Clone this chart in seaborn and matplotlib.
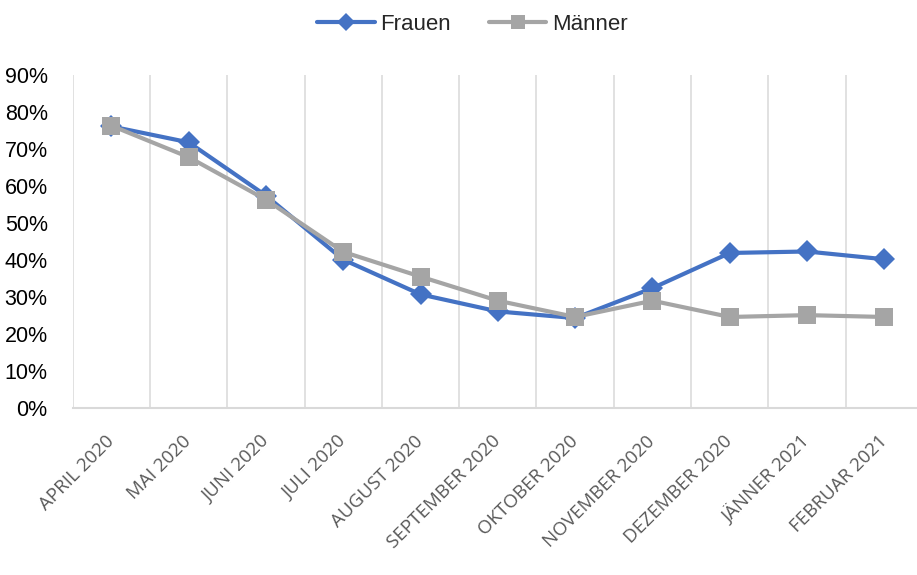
import numpy as np
import pandas as pd
import matplotlib
matplotlib.use("Agg")
import matplotlib.pyplot as plt
from matplotlib import font_manager as fm
from matplotlib.ticker import FixedLocator, FuncFormatter
import seaborn as sns

months = ["APRIL 2020", "MAI 2020", "JUNI 2020", "JULI 2020", "AUGUST 2020",
          "SEPTEMBER 2020", "OKTOBER 2020", "NOVEMBER 2020", "DEZEMBER 2020",
          "JÄNNER 2021", "FEBRUAR 2021"]
frauen = [76.1, 71.8, 57.4, 40.1, 30.7, 26.1, 24.3, 32.4, 41.9, 42.3, 40.2]
maenner = [76.3, 67.8, 56.3, 42.2, 35.5, 29.0, 24.6, 29.0, 24.6, 25.1, 24.6]
yticks = [0, 10, 20, 30, 40, 50, 60, 70, 80, 90]

sns.set_theme(style="white")
names = {f.name for f in fm.fontManager.ttflist}
narrow = "Liberation Sans Narrow" if "Liberation Sans Narrow" in names else "Liberation Sans"
plt.rcParams["font.family"] = [narrow, "DejaVu Sans"]

df = pd.DataFrame({"idx": np.arange(len(months)), "Frauen": frauen, "Männer": maenner})

fig = plt.figure(figsize=(9.17, 5.75), dpi=100)
ax = fig.add_axes([72.7 / 917, 1 - 408 / 575, (923 - 72.7) / 917, (408 - 75) / 575])

blue = "#4472C4"
gray = "#A5A5A5"
sns.lineplot(data=df, x="idx", y="Männer", ax=ax, color=gray, lw=3.0,
             marker="s", markersize=12.5, markeredgewidth=0, label="Männer", zorder=3)
sns.lineplot(data=df, x="idx", y="Frauen", ax=ax, color=blue, lw=3.0,
             marker="D", markersize=11.5, markeredgewidth=0, label="Frauen", zorder=2)

ax.set_xlim(-0.5, len(months) - 0.5)
ax.set_ylim(0, 90)
ax.set_xlabel("")
ax.set_ylabel("")

ax.xaxis.set_major_locator(FixedLocator(df["idx"].tolist()))
ax.xaxis.set_minor_locator(FixedLocator([i - 0.5 for i in range(len(months))]))
ax.set_xticklabels(months)
ax.set_yticks(yticks)
ax.yaxis.set_major_formatter(FuncFormatter(lambda v, p: f"{int(v)}%"))

ax.grid(False)
ax.grid(which="minor", axis="x", color="#D9D9D9", lw=1.1)
ax.tick_params(axis="both", which="both", length=0)
ax.tick_params(axis="y", pad=18, labelsize=15.5, labelcolor="#000000")
ax.tick_params(axis="x", pad=22)
for lab in ax.get_xticklabels():
    lab.set_rotation(45)
    lab.set_ha("right")
    lab.set_va("center")
    lab.set_rotation_mode("anchor")
    lab.set_fontfamily(["Open Sans", "DejaVu Sans"])
    lab.set_fontsize(13.5)
    lab.set_color("#595959")

for s in ["top", "right", "left"]:
    ax.spines[s].set_visible(False)
ax.spines["bottom"].set_color("#D9D9D9")
ax.spines["bottom"].set_linewidth(1.5)

h, l = ax.get_legend_handles_labels()
order = [l.index("Frauen"), l.index("Männer")]
leg = ax.legend([h[i] for i in order], [l[i] for i in order], loc="center",
                bbox_to_anchor=(0.515, 0.958), bbox_transform=fig.transFigure,
                ncol=2, frameon=False, fontsize=16, handlelength=2.6,
                columnspacing=1.7, handletextpad=0.25, markerscale=0.8)

fig.savefig("out.png", dpi=100)
